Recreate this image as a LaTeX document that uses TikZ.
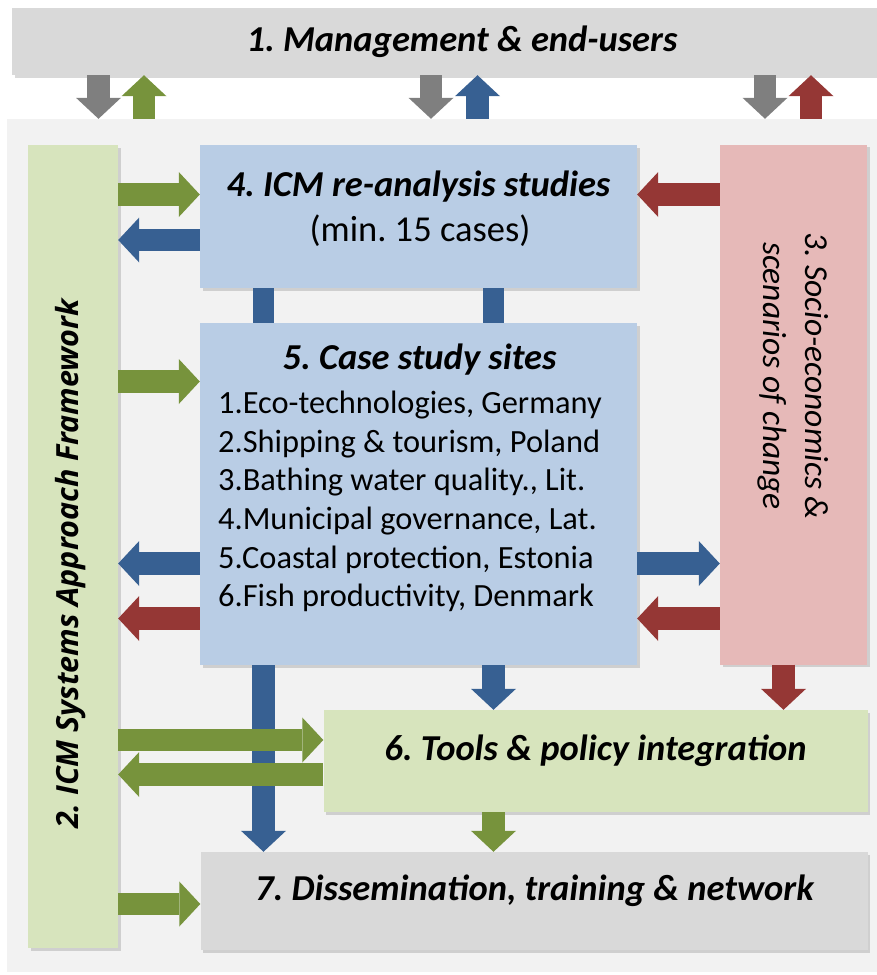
\documentclass[tikz,border=0pt]{standalone}
\usepackage{fontspec}
\setmainfont{Carlito}
\newfontfamily\vfont{Open Sans}
\usetikzlibrary{arrows.meta,shadows,calc}

\definecolor{mgray}{HTML}{D9D9D9}
\definecolor{panelbg}{HTML}{F2F2F2}
\definecolor{boxgreen}{HTML}{D7E4BD}
\definecolor{boxblue}{HTML}{B9CDE5}
\definecolor{boxred}{HTML}{E6B9B8}
\definecolor{agreen}{HTML}{77933C}
\definecolor{ablue}{HTML}{376092}
\definecolor{ared}{HTML}{953735}
\definecolor{agray}{HTML}{7F7F7F}

\tikzset{
	box/.style={inner sep=0pt, align=center, drop shadow={shadow xshift=2.5pt, shadow yshift=-2.5pt, opacity=0.3}},
	blk/.style={line width=22.5pt, -{Triangle[width=45pt,length=21pt,line width=0pt]}},
	bar/.style={line width=21pt},
	ttl/.style={font=\bfseries\itshape\fontsize{36.5}{42}\selectfont},
	lst/.style={font=\fontsize{32.4}{38.6}\selectfont},
}

\begin{document}
\frenchspacing
\begin{tikzpicture}[x=1pt,y=-1pt]
	\useasboundingbox (0,0) rectangle (876,975);
	\node[fill=panelbg, inner sep=0pt, minimum width=873, minimum height=853] (panel) at (443.5,545.5) {};
	\node[box, fill=mgray, minimum width=900, minimum height=67, ttl] (mgmt) at (462,41.5) {1. Management \& end-users};
	\node[box, fill=boxgreen, minimum width=90, minimum height=803] (icmsys) at (73,546.5) {};
	\node[box, fill=boxblue, minimum width=437, minimum height=143] (reanal) at (418.5,216.5) {};
	\node[box, fill=boxred, minimum width=147, minimum height=520] (socio) at (793.5,404.5) {};
	\node[box, fill=boxblue, minimum width=437, minimum height=342] (cases) at (418.5,494) {};
	\node[box, fill=boxgreen, minimum width=544, minimum height=102] (tools) at (595.5,761) {};
	\node[box, fill=mgray, minimum width=667, minimum height=98] (dissem) at (534,901) {};

	% texts
	\node[ttl] (reanalttl) at (418.5,187) {4. ICM re-analysis studies};
	\node[font=\fontsize{36.5}{42}\selectfont] (reanalsub) at (420,231) {(min. 15 cases)};
	\node[ttl] (casesttl) at (419.5,360) {5. Case study sites};
	\node[lst, anchor=north west, align=left, inner sep=0pt] (caselist) at (218,391) {1.Eco-technologies, Germany\\2.Shipping \& tourism, Poland\\3.Bathing water quality., Lit.\\4.Municipal governance, Lat.\\5.Coastal protection, Estonia\\6.Fish productivity, Denmark};
	\node[ttl] (toolsttl) at (595.5,751) {6. Tools \& policy integration};
	\node[ttl] (dissemttl) at (534.5,891) {7. Dissemination, training \& network};
	\node[rotate=90, font=\vfont\bfseries\itshape\fontsize{30.5}{36}\selectfont] (icmsysttl) at (71,564) {2. ICM Systems Approach Framework};
	\node[rotate=-90, align=center, font=\itshape\fontsize{33.5}{42}\selectfont] (sociottl) at (793.5,376) {3. Socio-economics \&\\scenarios of change};

	% columns and rows of the arrows
	\coordinate (gd1) at (98.5,0);
	\coordinate (gu1) at (144,0);
	\coordinate (gd2) at (431,0);
	\coordinate (gu2) at (477.5,0);
	\coordinate (gd3) at (765,0);
	\coordinate (gu3) at (811,0);
	\coordinate (colA) at (263.5,0);
	\coordinate (colB) at (493.5,0);
	\coordinate (colC) at (783.5,0);
	\coordinate (r1) at (0,194.5);
	\coordinate (r2) at (0,240);
	\coordinate (r3) at (0,381.5);
	\coordinate (r4) at (0,563.5);
	\coordinate (r5) at (0,618.5);
	\coordinate (r6) at (0,740);
	\coordinate (r7) at (0,774.5);
	\coordinate (r8) at (0,904);

	% top arrows
	\draw[blk, agray] (mgmt.south -| gd1) -- (panel.north -| gd1);
	\draw[blk, agreen] (panel.north -| gu1) -- (mgmt.south -| gu1);
	\draw[blk, agray] (mgmt.south -| gd2) -- (panel.north -| gd2);
	\draw[blk, ablue] (panel.north -| gu2) -- (mgmt.south -| gu2);
	\draw[blk, agray] (mgmt.south -| gd3) -- (panel.north -| gd3);
	\draw[blk, ared] (panel.north -| gu3) -- (mgmt.south -| gu3);

	% vertical links
	\draw[bar, ablue] (reanal.south -| colA) -- (cases.north -| colA);
	\draw[bar, ablue] (reanal.south -| colB) -- (cases.north -| colB);
	\draw[blk, ablue] (cases.south -| colA) -- (dissem.north -| colA);
	\draw[blk, ablue] (cases.south -| colB) -- (tools.north -| colB);
	\draw[blk, ared] (socio.south -| colC) -- (tools.north -| colC);
	\draw[blk, agreen] (tools.south -| colB) -- (dissem.north -| colB);

	% horizontal links
	\draw[blk, agreen] (icmsys.east |- r1) -- (reanal.west |- r1);
	\draw[blk, ared] (socio.west |- r1) -- (reanal.east |- r1);
	\draw[blk, ablue] (reanal.west |- r2) -- (icmsys.east |- r2);
	\draw[blk, agreen] (icmsys.east |- r3) -- (cases.west |- r3);
	\draw[blk, ablue] (cases.west |- r4) -- (icmsys.east |- r4);
	\draw[blk, ablue] (cases.east |- r4) -- (socio.west |- r4);
	\draw[blk, ared] (cases.west |- r5) -- (icmsys.east |- r5);
	\draw[blk, ared] (socio.west |- r5) -- (cases.east |- r5);
	\draw[blk, agreen] (icmsys.east |- r6) -- (tools.west |- r6);
	\draw[blk, agreen] (tools.west |- r7) -- (icmsys.east |- r7);
	\draw[blk, agreen] (icmsys.east |- r8) -- (dissem.west |- r8);
\end{tikzpicture}
\end{document}
